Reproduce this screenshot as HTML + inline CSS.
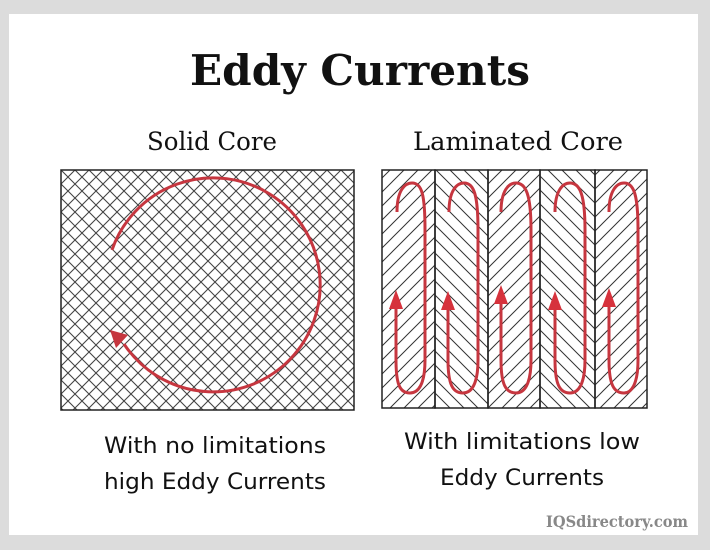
<!DOCTYPE html>
<html><head><meta charset="utf-8"><style>
html,body{margin:0;padding:0;background:#dcdcdc}
svg{display:block}
</style></head><body>
<svg width="710" height="550" viewBox="0 0 710 550" xmlns="http://www.w3.org/2000/svg">
<defs>
<pattern id="x" width="14" height="14" patternUnits="userSpaceOnUse" x="61" y="170">
<path d="M0,0 L14,14 M14,0 L0,14 M-1,13 L1,15 M13,-1 L15,1" stroke="#444" stroke-width="1.1" fill="none"/>
</pattern>
<pattern id="f" width="14" height="14" patternUnits="userSpaceOnUse">
<path d="M-1,15 L15,-1 M-4,4 L4,-4 M10,18 L18,10" stroke="#333" stroke-width="1" fill="none"/>
</pattern>
<pattern id="b" width="14" height="14" patternUnits="userSpaceOnUse">
<path d="M-1,-1 L15,15 M-4,10 L4,18 M10,-4 L18,4" stroke="#333" stroke-width="1" fill="none"/>
</pattern>
</defs>
<rect x="9" y="14" width="689" height="521" fill="#fff"/>
<text x="360" y="85" text-anchor="middle" font-family="DejaVu Serif, Liberation Serif, serif" font-weight="bold" font-size="42" fill="#111" textLength="340" lengthAdjust="spacingAndGlyphs">Eddy Currents</text>
<text x="212" y="150" text-anchor="middle" font-family="DejaVu Serif, Liberation Serif, serif" font-size="25" fill="#111" textLength="130" lengthAdjust="spacingAndGlyphs">Solid Core</text>
<text x="518" y="150" text-anchor="middle" font-family="DejaVu Serif, Liberation Serif, serif" font-size="25" fill="#111" textLength="210" lengthAdjust="spacingAndGlyphs">Laminated Core</text>

<rect x="61" y="170" width="293" height="240" fill="url(#x)" stroke="#222" stroke-width="1.5"/>
<path d="M112,250 A107,107 0 1 1 124,344" fill="none" stroke="#c6363f" stroke-width="3"/>
<polygon points="110,330 128,335 116,348" fill="#c6363f"/>

<g stroke="#222" stroke-width="1.5">
<rect x="382" y="170" width="53" height="238" fill="url(#f)"/>
<rect x="435" y="170" width="53" height="238" fill="url(#b)"/>
<rect x="488" y="170" width="52" height="238" fill="url(#f)"/>
<rect x="540" y="170" width="55" height="238" fill="url(#b)"/>
<rect x="595" y="170" width="52" height="238" fill="url(#f)"/>
</g>
<g fill="none" stroke="#c6363f" stroke-width="3">
<path d="M397,212 C397,190 405,183 412,183 C422,183 425,195 425,230 L425,360 C425,385 418,393 410,393 C400,393 396,385 396,360 L396,305"/>
<path d="M449,212 C449,190 457,183 464,183 C474,183 478,195 478,230 L478,360 C478,385 471,393 463,393 C453,393 448,385 448,360 L448,305"/>
<path d="M501,212 C501,190 509,183 516,183 C526,183 531,195 531,230 L531,360 C531,385 524,393 516,393 C506,393 501,385 501,360 L501,300"/>
<path d="M555,212 C555,190 563,183 570,183 C580,183 585,195 585,230 L585,360 C585,385 578,393 570,393 C560,393 555,385 555,360 L555,305"/>
<path d="M609,212 C609,190 617,183 624,183 C634,183 638,195 638,230 L638,360 C638,385 631,393 624,393 C614,393 609,385 609,360 L609,303"/>
</g>
<g fill="#d6323c">
<polygon points="396,290 389,309 403,309"/>
<polygon points="448,291 441,310 455,310"/>
<polygon points="501,285 494,304 508,304"/>
<polygon points="555,291 548,310 562,310"/>
<polygon points="609,288 602,307 616,307"/>
</g>

<g font-family="DejaVu Sans, Liberation Sans, sans-serif" font-size="22" fill="#111" text-anchor="middle">
<text x="215" y="453" textLength="222" lengthAdjust="spacingAndGlyphs">With no limitations</text>
<text x="215" y="489" textLength="222" lengthAdjust="spacingAndGlyphs">high Eddy Currents</text>
<text x="522" y="449" textLength="236" lengthAdjust="spacingAndGlyphs">With limitations low</text>
<text x="522" y="485" textLength="164" lengthAdjust="spacingAndGlyphs">Eddy Currents</text>
</g>
<text x="688" y="527" text-anchor="end" font-family="DejaVu Serif, Liberation Serif, serif" font-weight="bold" font-size="16" fill="#888" textLength="142" lengthAdjust="spacingAndGlyphs">IQSdirectory.com</text>
</svg>
</body></html>
